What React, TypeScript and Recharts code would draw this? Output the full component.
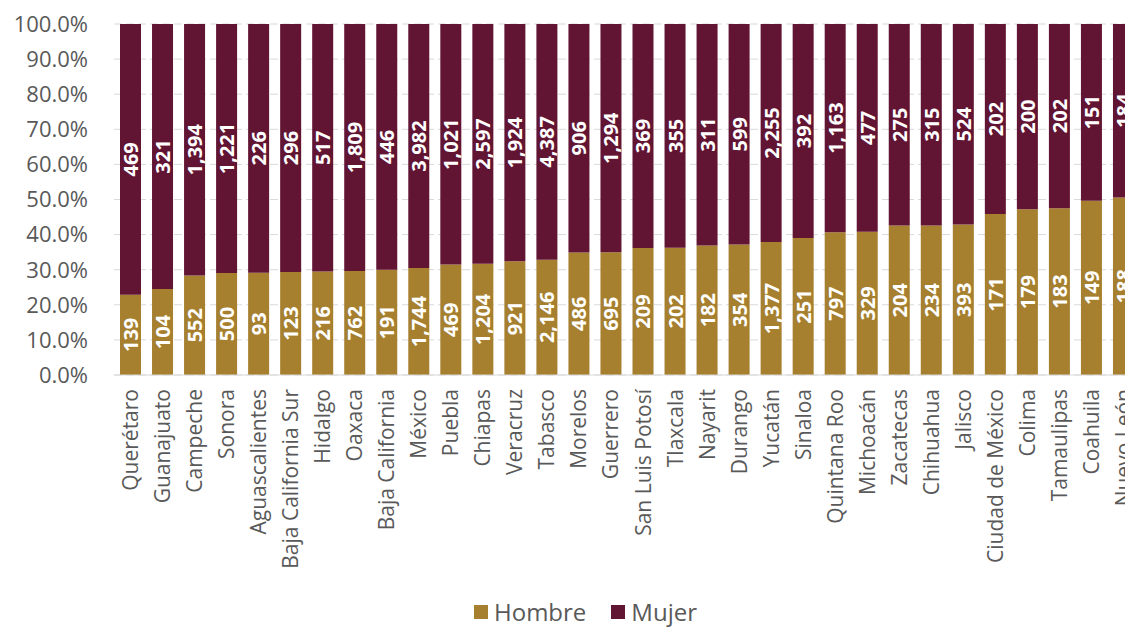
import React from "react";
import { BarChart, Bar, XAxis, YAxis, CartesianGrid, Legend, LabelList } from "recharts";

const states = [
  "Querétaro", "Guanajuato", "Campeche", "Sonora", "Aguascalientes", "Baja California Sur",
  "Hidalgo", "Oaxaca", "Baja California", "México", "Puebla", "Chiapas", "Veracruz", "Tabasco",
  "Morelos", "Guerrero", "San Luis Potosí", "Tlaxcala", "Nayarit", "Durango", "Yucatán",
  "Sinaloa", "Quintana Roo", "Michoacán", "Zacatecas", "Chihuahua", "Jalisco",
  "Ciudad de México", "Colima", "Tamaulipas", "Coahuila", "Nuevo León",
];
const hombre = [139, 104, 552, 500, 93, 123, 216, 762, 191, 1744, 469, 1204, 921, 2146, 486, 695, 209, 202, 182, 354, 1377, 251, 797, 329, 204, 234, 393, 171, 179, 183, 149, 188];
const mujer = [469, 321, 1394, 1221, 226, 296, 517, 1809, 446, 3982, 1021, 2597, 1924, 4387, 906, 1294, 369, 355, 311, 599, 2255, 392, 1163, 477, 275, 315, 524, 202, 200, 202, 151, 184];
const yTicks = [0, 0.1, 0.2, 0.3, 0.4, 0.5, 0.6, 0.7, 0.8, 0.9, 1];

const data = states.map((s, i) => ({ state: s, hombre: hombre[i], mujer: mujer[i] }));

const FONT = "'Open Sans', sans-serif";
const GOLD = "#A67F2F";
const MAROON = "#621433";
const GRAY = "#595959";

const XTick = (props: any) => {
  const { x, payload } = props;
  const y = 389;
  return (
    <text x={x} y={y} transform={`rotate(-90, ${x}, ${y})`} textAnchor="end" dominantBaseline="central"
      fill={GRAY} fontSize={21} fontFamily={FONT}>
      {payload.value}
    </text>
  );
};

const SegLabel = (props: any) => {
  const { x, y, width, height, value } = props;
  const cx = Number(x) + Number(width) / 2;
  const cy = Number(y) + Number(height) / 2;
  return (
    <text x={cx} y={cy} transform={`rotate(-90, ${cx}, ${cy})`} textAnchor="middle" dominantBaseline="central"
      fill="#ffffff" fontSize={20} fontWeight={700} fontFamily={FONT}>
      {Number(value).toLocaleString("en-US")}
    </text>
  );
};

const LegendContent = () => (
  <div style={{ display: "flex", justifyContent: "center", alignItems: "center", fontFamily: FONT, fontSize: 24, color: GRAY, lineHeight: "26px" }}>
    <span style={{ display: "inline-block", width: 14, height: 14, background: GOLD, marginRight: 6 }} />
    <span style={{ marginRight: 25 }}>Hombre</span>
    <span style={{ display: "inline-block", width: 14, height: 14, background: MAROON, marginRight: 6 }} />
    <span>Mujer</span>
  </div>
);

export default function App() {
  return (
    <div style={{ position: "fixed", left: 0, top: 0, width: 1125, height: 628, overflow: "hidden", background: "#fff" }}>
      <BarChart width={1140} height={628} data={data} stackOffset="expand"
        margin={{ top: 24, right: 1, bottom: 0, left: 0 }}>
        <CartesianGrid vertical={false} stroke="#D9D9D9" strokeDasharray="8 4" />
        <XAxis dataKey="state" interval={0} height={253} tickLine={false}
          axisLine={{ stroke: "#D9D9D9" }} tick={<XTick />} />
        <YAxis width={114} domain={[0, 1]} ticks={yTicks} axisLine={false} tickLine={false} tickMargin={20}
          tickFormatter={(v: number) => `${(v * 100).toFixed(1)}%`}
          tick={{ fill: GRAY, fontSize: 22, fontFamily: FONT }} />
        <Legend verticalAlign="middle" align="center" content={<LegendContent />}
          wrapperStyle={{ top: 599, left: 0, width: 1171 }} />
        <Bar dataKey="hombre" name="Hombre" stackId="a" fill={GOLD} barSize={21} isAnimationActive={false}>
          <LabelList dataKey="hombre" content={<SegLabel />} />
        </Bar>
        <Bar dataKey="mujer" name="Mujer" stackId="a" fill={MAROON} barSize={21} isAnimationActive={false}>
          <LabelList dataKey="mujer" content={<SegLabel />} />
        </Bar>
      </BarChart>
    </div>
  );
}
